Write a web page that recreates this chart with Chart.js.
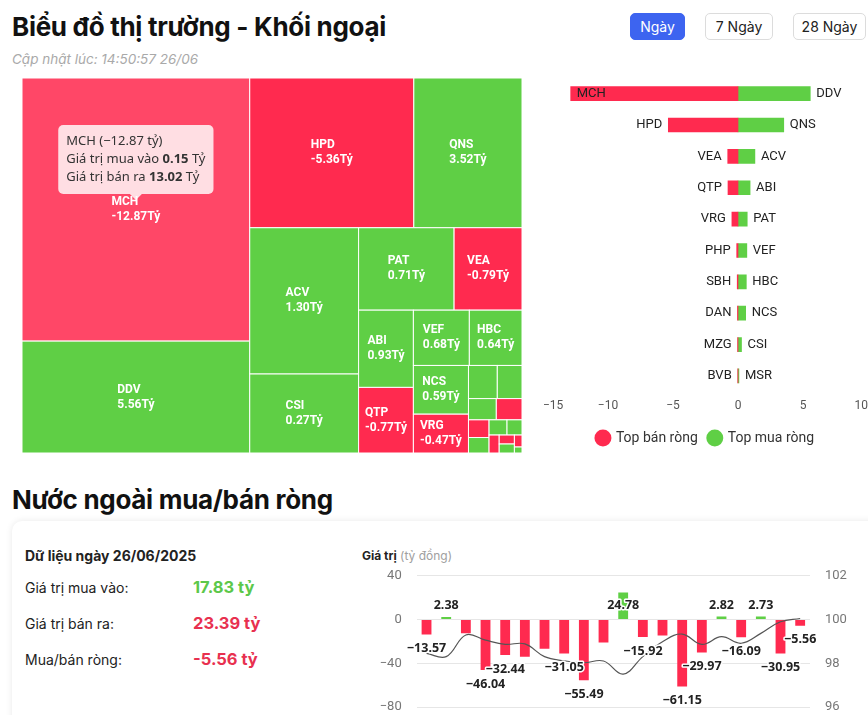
<!DOCTYPE html>
<html lang="vi">
<head>
<meta charset="UTF-8">
<meta name="viewport" content="width=device-width, initial-scale=1.0">
<title>Biểu đồ thị trường - Khối ngoại</title>
<script src="https://cdn.jsdelivr.net/npm/chart.js"></script>
<style>
  html, body { margin: 0; padding: 0; }
  body { width: 868px; height: 715px; overflow: hidden; position: relative; background: #fff;
         font-family: Inter, "Noto Sans", sans-serif; color: #111; }
  .title { position: absolute; left: 12px; margin: 0; font-size: 26px; font-weight: 700; line-height: 1; letter-spacing: -0.3px; }
  .updated { position: absolute; left: 12px; top: 51px; font-size: 13.5px; font-style: italic; color: #a9a9a9; }
  .btn { position: absolute; top: 13px; height: 27px; line-height: 25px; box-sizing: border-box; text-align: center;
         border: 1px solid #dcdcdc; border-radius: 5px; font-size: 14px; color: #222; background: #fff; }
  .btn.active { background: #3d64f0; border-color: #3d64f0; color: #fff; }
  .box { position: absolute; }
  .card { position: absolute; left: 12px; top: 521px; width: 900px; height: 260px; border-radius: 10px;
          background: #fff; box-shadow: 0 0 7px rgba(0,0,0,0.09); }
  .info { position: absolute; left: 25px; font-size: 14px; color: #222; }
  .val { position: absolute; left: 193px; font-size: 16.5px; font-weight: 700; }
  .green { color: #5cc84a; }
  .red { color: #e8304f; }
  .axis-title { position: absolute; left: 362px; top: 548px; font-size: 12px; color: #222; }
  .axis-title span { color: #a0a0a0; }
</style>
</head>
<body>
  <h1 class="title" style="top:14px">Biểu đồ thị trường - Khối ngoại</h1>
  <div class="updated">Cập nhật lúc: 14:50:57 26/06</div>
  <div class="btn active" style="left:630px;width:55px">Ngày</div>
  <div class="btn" style="left:705px;width:68px">7 Ngày</div>
  <div class="btn" style="left:793px;width:73px">28 Ngày</div>

  <div class="box" style="left:22px;top:78px;width:500px;height:375px">
    <canvas id="treemap" width="500" height="375"></canvas>
  </div>
  <div class="box" style="left:536px;top:78px;width:339px;height:379px">
    <canvas id="topChart" width="339" height="379"></canvas>
  </div>

  <h1 class="title" style="top:487px">Nước ngoài mua/bán ròng</h1>
  <div class="card"></div>
  <div class="info" style="top:547px;font-weight:700">Dữ liệu ngày 26/06/2025</div>
  <div class="info" style="top:579px">Giá trị mua vào:</div>
  <div class="val green" style="top:577px">17.83 tỷ</div>
  <div class="info" style="top:615px">Giá trị bán ra:</div>
  <div class="val red" style="top:613px">23.39 tỷ</div>
  <div class="info" style="top:651px">Mua/bán ròng:</div>
  <div class="val red" style="top:649px">-5.56 tỷ</div>

  <div class="axis-title"><b>Giá trị</b> <span>(tỷ đồng)</span></div>
  <div class="box" style="left:370px;top:553px;width:498px;height:177px">
    <canvas id="flowChart" width="498" height="177"></canvas>
  </div>

<script>
// treemap: giá trị mua / bán theo mã (tỷ đồng), diện tích = mua + bán
const tmNames = ['MCH','DDV','HPD','QNS','ACV','CSI','PAT','VEA','ABI','QTP','VEF','HBC','NCS','VRG',
                 'OIL','BSR','VTP','PHP','SBH','MSR','ACG','FOX','DAN','MZG','VGT','BVB','SIP'];
const tmBuy  = [0.15,5.58,0.02,3.54,2.40,1.08,1.22,0.22,0.93,0.01,0.68,0.64,0.59,0.00,
                0.13,0.11,0.08,0.01,0.01,0.07,0.04,0.03,0.00,0.00,0.02,0.00,0.01];
const tmSell = [13.02,0.02,5.38,0.02,1.10,0.81,0.51,1.01,0.00,0.78,0.00,0.00,0.00,0.47,
                0.08,0.07,0.05,0.11,0.07,0.00,0.02,0.02,0.04,0.03,0.01,0.02,0.00];
const tmActive = 0; // ô đang hover (MCH)

// top bán ròng / mua ròng
const sellNames = ['MCH','HPD','VEA','QTP','VRG','PHP','SBH','DAN','MZG','BVB'];
const sellValues = [-12.87,-5.36,-0.79,-0.77,-0.47,-0.10,-0.06,-0.04,-0.03,-0.02];
const buyNames = ['DDV','QNS','ACV','ABI','PAT','VEF','HBC','NCS','CSI','MSR'];
const buyValues = [5.56,3.52,1.30,0.93,0.71,0.68,0.64,0.59,0.27,0.07];

// nước ngoài mua/bán ròng theo ngày
const flowDates = ['30/05','02/06','03/06','04/06','05/06','06/06','09/06','10/06','11/06','12/06',
                   '13/06','16/06','17/06','18/06','19/06','20/06','23/06','24/06','25/06','26/06'];
const flowNet = [-13.57,2.38,-12.5,-46.04,-32.44,-34.0,-26.6,-31.05,-55.49,-20.8,
                 24.78,-15.92,-14.5,-61.15,-29.97,2.82,-16.09,2.73,-30.95,-5.56];
const flowShowLabel = [1,1,0,1,1,0,0,1,1,0,1,1,0,1,1,1,1,1,1,1];
const indexLine = [98.46,98.31,99.30,99.06,98.87,98.89,98.31,98.12,98.03,98.11,
                   97.51,98.31,98.99,99.34,98.87,99.22,98.92,99.37,99.90,100.05];

const RED = '#ff2a4f';
const RED_HOVER = '#ff4767';
const GREEN = '#5fcf45';

Chart.defaults.font.family = 'Roboto';
Chart.defaults.animation = false;

function fmt2(v, minus) {
  return (v < 0 ? minus : '') + Math.abs(v).toFixed(2);
}

// squarified treemap, trả về ô theo đúng thứ tự chỉ số
function worst(row, side) {
  const s = row.reduce((a, r) => a + r.v, 0);
  let mx = 0, mn = Infinity;
  row.forEach(r => { mx = Math.max(mx, r.v); mn = Math.min(mn, r.v); });
  return Math.max(side * side * mx / (s * s), (s * s) / (side * side * mn));
}
function squarify(values, x, y, w, h) {
  const total = values.reduce((a, b) => a + b, 0);
  let rest = values.map((v, i) => ({ i, v: v / total * w * h }))
                   .filter(r => r.v > 0)
                   .sort((a, b) => b.v - a.v);
  const out = [];
  while (rest.length) {
    const side = Math.min(w, h);
    const row = [rest[0]];
    let k = 1;
    while (k < rest.length && worst(row.concat(rest[k]), side) <= worst(row, side)) {
      row.push(rest[k]);
      k++;
    }
    rest = rest.slice(k);
    const sum = row.reduce((a, r) => a + r.v, 0);
    if (w >= h) {
      const cw = sum / h;
      let yy = y;
      row.forEach(r => { out[r.i] = { x: x, y: yy, w: cw, h: r.v / cw }; yy += r.v / cw; });
      x += cw; w -= cw;
    } else {
      const rh = sum / w;
      let xx = x;
      row.forEach(r => { out[r.i] = { x: xx, y: y, w: r.v / rh, h: rh }; xx += r.v / rh; });
      y += rh; h -= rh;
    }
  }
  return out;
}

const treemapPlugin = {
  id: 'treemap',
  afterDatasetsDraw(chart) {
    const ctx = chart.ctx;
    const xs = chart.scales.x, ys = chart.scales.y;
    const totals = tmNames.map((n, i) => tmBuy[i] + tmSell[i]);
    const cells = squarify(totals, xs.min, ys.min, xs.max - xs.min, ys.max - ys.min);
    ctx.save();
    const boxes = [];
    cells.forEach((c, i) => {
      if (!c) return;
      const x0 = xs.getPixelForValue(c.x), x1 = xs.getPixelForValue(c.x + c.w);
      const y0 = ys.getPixelForValue(c.y), y1 = ys.getPixelForValue(c.y + c.h);
      const net = tmBuy[i] - tmSell[i];
      ctx.fillStyle = net < 0 ? (i === tmActive ? RED_HOVER : RED) : GREEN;
      ctx.fillRect(x0, y0, x1 - x0, y1 - y0);
      ctx.strokeStyle = '#fff';
      ctx.lineWidth = 1;
      ctx.strokeRect(x0, y0, x1 - x0, y1 - y0);
      boxes[i] = { x0, x1, y0, y1, net };
    });
    // nhãn
    ctx.font = 'bold 12px Roboto';
    ctx.fillStyle = '#fff';
    ctx.textAlign = 'left';
    ctx.textBaseline = 'middle';
    boxes.forEach((b, i) => {
      if (!b) return;
      const w = b.x1 - b.x0, h = b.y1 - b.y0;
      if (w < 44 || h < 34) return;
      const l1 = tmNames[i], l2 = fmt2(b.net, '-') + 'Tỷ';
      const bw = Math.max(ctx.measureText(l1).width, ctx.measureText(l2).width);
      const cx = (b.x0 + b.x1) / 2, cy = (b.y0 + b.y1) / 2;
      ctx.fillText(l1, cx - bw / 2, cy - 7.5);
      ctx.fillText(l2, cx - bw / 2, cy + 7.5);
    });
    // tooltip của ô đang hover
    const a = boxes[tmActive];
    if (a) {
      const cx = (a.x0 + a.x1) / 2, tipY = (a.y0 + a.y1) / 2 - 9.5;
      const lines = [
        [[tmNames[tmActive] + ' (' + fmt2(a.net, '\u2212') + ' tỷ)', false]],
        [['Giá trị mua vào ', false], [tmBuy[tmActive].toFixed(2), true], [' Tỷ', false]],
        [['Giá trị bán ra ', false], [tmSell[tmActive].toFixed(2), true], [' Tỷ', false]]
      ];
      const fontN = '13px "Noto Sans"', fontB = 'bold 13px "Noto Sans"';
      const widths = lines.map(l => l.reduce((s, p) => { ctx.font = p[1] ? fontB : fontN; return s + ctx.measureText(p[0]).width; }, 0));
      const bw = Math.max(...widths) + 16, bh = 69;
      const bx = cx - bw / 2, by = tipY - 6 - bh;
      ctx.fillStyle = 'rgba(255,255,255,0.82)';
      ctx.beginPath();
      ctx.roundRect(bx, by, bw, bh, 5);
      ctx.fill();
      ctx.beginPath();
      ctx.moveTo(cx - 6, by + bh);
      ctx.lineTo(cx, tipY);
      ctx.lineTo(cx + 6, by + bh);
      ctx.closePath();
      ctx.fill();
      ctx.fillStyle = '#333';
      ctx.textBaseline = 'middle';
      lines.forEach((l, k) => {
        let tx = bx + 8;
        l.forEach(p => {
          ctx.font = p[1] ? fontB : fontN;
          ctx.fillText(p[0], tx, by + 16 + k * 18);
          tx += ctx.measureText(p[0]).width;
        });
      });
    }
    ctx.restore();
  }
};

const tmCanvas = document.getElementById('treemap');
new Chart(tmCanvas, {
  type: 'scatter',
  data: { datasets: [{ data: [] }] },
  options: {
    responsive: false,
    layout: { padding: 0 },
    scales: {
      x: { type: 'linear', display: false, min: 0, max: tmCanvas.width / tmCanvas.height },
      y: { type: 'linear', display: false, min: 0, max: 1, reverse: true }
    },
    plugins: { legend: { display: false }, tooltip: { enabled: false } }
  },
  plugins: [treemapPlugin]
});

// tên mã cạnh thanh
const namePlugin = {
  id: 'names',
  afterDatasetsDraw(chart) {
    const ctx = chart.ctx, area = chart.chartArea;
    ctx.save();
    ctx.font = '13px Roboto';
    ctx.fillStyle = '#222';
    ctx.textBaseline = 'middle';
    chart.data.datasets.forEach((ds, d) => {
      chart.getDatasetMeta(d).data.forEach((bar, i) => {
        const name = ds.names[i];
        const tw = ctx.measureText(name).width;
        if (d === 0) {
          const end = Math.min(bar.x, bar.base);
          if (end - 6 - tw < area.left) {
            ctx.textAlign = 'left';
            ctx.fillText(name, end + 6, bar.y);
          } else {
            ctx.textAlign = 'right';
            ctx.fillText(name, end - 6, bar.y);
          }
        } else {
          ctx.textAlign = 'left';
          ctx.fillText(name, Math.max(bar.x, bar.base) + 6, bar.y);
        }
      });
    });
    ctx.restore();
  }
};

new Chart(document.getElementById('topChart'), {
  type: 'bar',
  data: {
    labels: sellNames.map((n, i) => i + 1),
    datasets: [
      { label: 'Top bán ròng', data: sellValues, names: sellNames, backgroundColor: RED, barThickness: 14 },
      { label: 'Top mua ròng', data: buyValues, names: buyNames, backgroundColor: GREEN, barThickness: 14 }
    ]
  },
  options: {
    responsive: false,
    indexAxis: 'y',
    layout: { padding: { left: 0, right: 0, top: 0, bottom: 2 } },
    scales: {
      x: {
        stacked: true, min: -15, max: 10,
        grid: { display: false, drawTicks: false },
        border: { display: false },
        ticks: { stepSize: 5, align: 'inner', padding: 7, color: '#555', font: { size: 12 },
                 callback: v => String(v).replace('-', '\u2212') }
      },
      y: { stacked: true, display: false }
    },
    plugins: {
      legend: {
        position: 'bottom',
        labels: { usePointStyle: true, pointStyle: 'circle', boxWidth: 12, boxHeight: 12,
                  color: '#333', font: { size: 14 }, padding: 11 }
      },
      tooltip: { enabled: false }
    }
  },
  plugins: [namePlugin]
});

// nhãn giá trị cột
const valuePlugin = {
  id: 'values',
  afterDatasetsDraw(chart) {
    const ctx = chart.ctx;
    const meta = chart.getDatasetMeta(1);
    ctx.save();
    ctx.font = 'bold 12.5px "Noto Sans"';
    ctx.textAlign = 'center';
    ctx.textBaseline = 'middle';
    ctx.lineJoin = 'round';
    meta.data.forEach((bar, i) => {
      if (!flowShowLabel[i]) return;
      const v = flowNet[i];
      const txt = fmt2(v, '\u2212');
      const y = v >= 0 ? bar.base - 14 : bar.y + 14;
      ctx.strokeStyle = '#fff';
      ctx.lineWidth = 3;
      ctx.strokeText(txt, bar.x, y);
      ctx.fillStyle = '#222';
      ctx.fillText(txt, bar.x, y);
    });
    ctx.restore();
  }
};

new Chart(document.getElementById('flowChart'), {
  data: {
    labels: flowDates,
    datasets: [
      { type: 'line', data: indexLine, yAxisID: 'y1', order: 0, borderColor: '#555', borderWidth: 1.2,
        pointRadius: 0, tension: 0.4, fill: false },
      { type: 'bar', data: flowNet, yAxisID: 'y', order: 1,
        backgroundColor: flowNet.map(v => v < 0 ? RED : GREEN),
        barPercentage: 0.5, categoryPercentage: 1 }
    ]
  },
  options: {
    responsive: false,
    layout: { padding: { top: 13, bottom: 16, left: 0, right: 0 } },
    scales: {
      x: { display: false },
      y: {
        position: 'left', min: -80, max: 40,
        grid: { color: '#e6e6e6', drawTicks: false },
        border: { display: false },
        ticks: { stepSize: 40, padding: 15, color: '#777', font: { size: 13 },
                 callback: v => String(v).replace('-', '\u2212') },
        afterFit: s => { s.width = 46.7; }
      },
      y1: {
        position: 'right', min: 96, max: 102,
        grid: { display: false, drawTicks: false },
        border: { display: false },
        ticks: { stepSize: 2, padding: 15, color: '#777', font: { size: 13 } },
        afterFit: s => { s.width = 58; }
      }
    },
    plugins: { legend: { display: false }, tooltip: { enabled: false } }
  },
  plugins: [valuePlugin]
});
</script>
</body>
</html>
